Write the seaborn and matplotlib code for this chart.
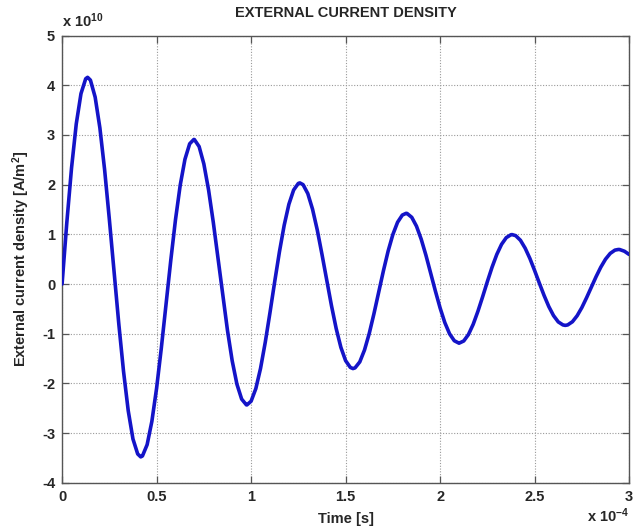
import numpy as np
import matplotlib
matplotlib.use("Agg")
import matplotlib.pyplot as plt
import seaborn as sns

# Time axis in units of 1e-4 s, sampled every 0.025e-4 s from 0 to 3e-4 s
time_scaled = np.linspace(0.0, 3.0, 121)

# External current density in units of 1e10 A/m^2
density_scaled = [
    0.000, 1.234, 2.334, 3.221, 3.831, 4.131, 4.102, 3.760, 3.141, 2.301,
    1.304, 0.245, -0.799, -1.754, -2.550, -3.118, -3.419, -3.461, -3.232, -2.764,
    -2.098, -1.290, -0.411, 0.474, 1.294, 1.989, 2.509, 2.821, 2.906, 2.766,
    2.417, 1.894, 1.242, 0.515, -0.229, -0.932, -1.545, -2.015, -2.315, -2.431,
    -2.358, -2.105, -1.697, -1.171, -0.573, 0.050, 0.649, 1.181, 1.605, 1.891,
    2.025, 1.999, 1.820, 1.507, 1.089, 0.597, 0.078, -0.430, -0.893, -1.274,
    -1.542, -1.678, -1.687, -1.567, -1.328, -0.996, -0.597, -0.166, 0.265, 0.663,
    0.996, 1.243, 1.387, 1.420, 1.342, 1.164, 0.902, 0.579, 0.222, -0.141,
    -0.482, -0.777, -1.001, -1.141, -1.190, -1.146, -1.016, -0.811, -0.549, -0.256,
    0.049, 0.340, 0.596, 0.798, 0.933, 0.992, 0.973, 0.880, 0.721, 0.514,
    0.272, 0.018, -0.229, -0.453, -0.635, -0.762, -0.823, -0.823, -0.759, -0.638,
    -0.473, -0.275, -0.064, 0.146, 0.338, 0.499, 0.616, 0.682, 0.694, 0.660,
    0.595,
]

# Peaks and troughs (time in 1e-4 s, value in 1e10 A/m^2)
extreme_times = [0.135, 0.416, 0.697, 0.978, 1.258, 1.539, 1.820, 2.101,
                 2.381, 2.662, 2.943]
extreme_values = [4.159, -3.478, 2.908, -2.432, 2.034, -1.701, 1.422, -1.189,
                  0.994, -0.832, 0.695]

x_ticks = [0, 0.5, 1, 1.5, 2, 2.5, 3]
x_tick_labels = ["0", "0.5", "1", "1.5", "2", "2.5", "3"]
y_ticks = [-4, -3, -2, -1, 0, 1, 2, 3, 4, 5]
y_tick_labels = ["-4", "-3", "-2", "-1", "0", "1", "2", "3", "4", "5"]

title_text = "EXTERNAL CURRENT DENSITY"
x_label = "Time [s]"
y_label = r"External current density [A/m$^{2}$]"
x_mult = r"x 10$^{-4}$"
y_mult = r"x 10$^{10}$"

# merge the regular samples with the read extremes, ordered by time
all_t = np.concatenate([np.asarray(time_scaled), np.asarray(extreme_times)])
all_y = np.concatenate([np.asarray(density_scaled), np.asarray(extreme_values)])
order = np.argsort(all_t, kind="stable")
all_t = all_t[order]
all_y = all_y[order]

sns.set_style("white")
plt.rcParams["font.family"] = ["Liberation Sans", "DejaVu Sans"]
plt.rcParams["font.weight"] = "bold"
plt.rcParams["mathtext.fontset"] = "custom"
plt.rcParams["mathtext.rm"] = "Liberation Sans:bold"
plt.rcParams["mathtext.bf"] = "Liberation Sans:bold"
plt.rcParams["mathtext.default"] = "bf"

fig = plt.figure(figsize=(6.4, 5.3), dpi=100)
ax = fig.add_axes([0.097, 0.089, 0.886, 0.844])

sns.lineplot(x=all_t, y=all_y, ax=ax, color="#1414c8", sort=False,
             linewidth=2.6, zorder=3, solid_joinstyle="round",
             solid_capstyle="round")

ax.set_xlim(0, 3)
ax.set_ylim(-4, 5)
ax.set_xticks(x_ticks)
ax.set_xticklabels(x_tick_labels, fontsize=10.5, fontweight="bold")
ax.set_yticks(y_ticks)
ax.set_yticklabels(y_tick_labels, fontsize=10.5, fontweight="bold")

ax.grid(True, linestyle=(0, (1, 1.5)), color="#9a9a9a", linewidth=0.8)
ax.tick_params(direction="in", length=5, width=0.9, color="#555555",
               top=True, right=True, bottom=True, left=True, pad=5)
for s in ax.spines.values():
    s.set_visible(True)
    s.set_color("#555555")
    s.set_linewidth(1.0)

ax.set_title(title_text, fontsize=10.5, fontweight="bold", pad=13)
ax.set_xlabel(x_label, fontsize=10.5, fontweight="bold", labelpad=6)
ax.set_ylabel(y_label, fontsize=10.5, fontweight="bold", labelpad=7)

ax.text(0.0, 1.012, y_mult, transform=ax.transAxes, fontsize=10.5,
        fontweight="bold", ha="left", va="bottom")
ax.text(1.0, -0.088, x_mult, transform=ax.transAxes, fontsize=10.5,
        fontweight="bold", ha="right", va="baseline")

fig.savefig("out.png", dpi=100, facecolor="white")
